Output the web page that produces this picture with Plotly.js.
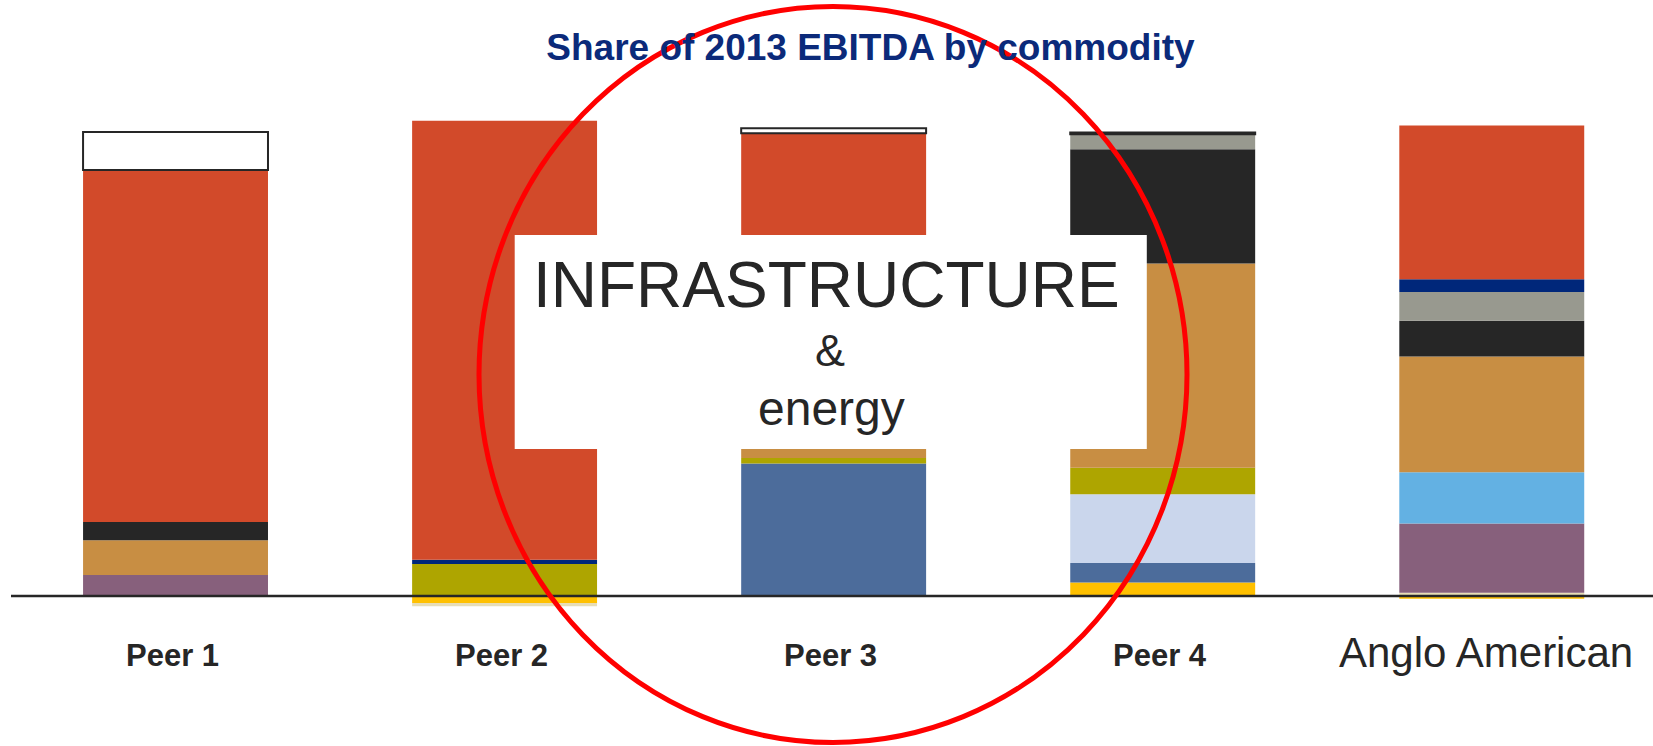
<!DOCTYPE html>
<html>
<head>
<meta charset="utf-8">
<script src="https://cdn.plot.ly/plotly-3.0.1.min.js"></script>
<style>html,body{margin:0;padding:0;background:#fff;}#chart{width:1653px;height:746px;}</style>
</head>
<body>
<div id="chart"></div>
<script>
// ---- data (share of 2013 EBITDA, %) ----
const categories = ['Peer 1', 'Peer 2', 'Peer 3', 'Peer 4', 'Anglo American'];
const tickLabels = ['<b>Peer 1</b>', '<b>Peer 2</b>', '<b>Peer 3</b>', '<b>Peer 4</b>', 'Anglo American'];

// series listed from bottom of stack to top
const zinc        = [null, -1.5, null, 2.9, -0.6];
const niobium     = [null, -0.7, null, null, 0.7];
const petroleum   = [null, null, 28.5, 4.2, null];
const agriculture = [null, null, null, 14.8, null];
const diamondsNi  = [4.5, null, null, null, 14.9];
const aluminium   = [null, 6.9, 1.2, 5.7, null];
const platinum    = [null, null, null, null, 11.0];
const copper      = [7.5, null, 17.0, 43.9, 24.9];
const thermalCoal = [3.9, null, 6.0, 24.6, 7.7];
const metCoal     = [null, null, null, 3.2, 6.2];
const manganese   = [null, 0.9, null, null, 2.7];
const ironOre     = [75.7, 94.4, 46.8, null, 33.1];
const other       = [8.2, null, 1.1, 0.4, null];

const seriesNames  = ['Zinc', 'Niobium & phosphates', 'Petroleum', 'Agriculture', 'Diamonds & nickel', 'Aluminium', 'Platinum', 'Copper', 'Thermal coal', 'Metallurgical coal', 'Manganese', 'Iron ore', 'Other'];
const seriesValues = [zinc, niobium, petroleum, agriculture, diamondsNi, aluminium, platinum, copper, thermalCoal, metCoal, manganese, ironOre, other];
const seriesColors = ['#FFC000', '#E7DDB6', '#4C6C9B', '#CAD6EC', '#87607C', '#AEA500', '#63B1E3', '#C88E43', '#262626', '#98998F', '#00277A', '#D24A2A', '#FFFFFF'];

const overlayText = ['INFRASTRUCTURE', '&', 'energy'];
const titleText = 'Share of 2013 EBITDA by commodity';

// ---- traces ----
const traces = seriesNames.map((name, i) => ({
  type: 'bar',
  name: name,
  x: categories,
  y: seriesValues[i],
  marker: {
    color: seriesColors[i],
    line: name === 'Other' ? {color: '#262626', width: 2} : {width: 0}
  },
  hoverinfo: 'skip'
}));

const dark = '#262626';
const labelAnnotations = categories.map((c, i) => ({
  xref: 'x', yref: 'paper', x: c,
  y: i === 4 ? -0.0698 : -0.0756,
  xshift: i === 4 ? -6 : -3,
  xanchor: 'center', yanchor: 'middle',
  text: tickLabels[i], showarrow: false,
  font: {family: 'Liberation Sans, Arial, sans-serif', size: i === 4 ? 42 : 31, color: dark}
}));

const overlayAnnotations = [
  {x: 0.4965, y: 0.6409, size: 64},
  {x: 0.4988, y: 0.5140, size: 45},
  {x: 0.4998, y: 0.4012, size: 48}
].map((p, i) => ({
  xref: 'paper', yref: 'paper', x: p.x, y: p.y,
  xanchor: 'center', yanchor: 'middle', showarrow: false,
  text: overlayText[i],
  font: {family: 'Liberation Sans, Arial, sans-serif', size: p.size, color: dark}
}));

const layout = {
  width: 1653, height: 746,
  margin: {l: 11, r: 0, t: 100, b: 130},
  paper_bgcolor: '#ffffff', plot_bgcolor: '#ffffff',
  barmode: 'relative',
  bargap: 0.438,
  showlegend: false,
  title: {
    text: '<b>' + titleText + '</b>',
    font: {family: 'Liberation Sans, Arial, sans-serif', size: 37, color: '#0B2A7A'},
    xref: 'container', yref: 'container',
    x: 0.5266, xanchor: 'center', y: 0.937, yanchor: 'middle'
  },
  xaxis: {type: 'category', range: [-0.5, 4.49], visible: false, fixedrange: true},
  yaxis: {range: [-4.30, 106.67], visible: false, fixedrange: true},
  shapes: [
    {type: 'line', layer: 'above', xref: 'paper', yref: 'y', x0: 0, x1: 1, y0: 0, y1: 0,
     line: {color: dark, width: 2.5}},
    {type: 'rect', layer: 'above', xref: 'paper', yref: 'paper',
     x0: 0.30676, x1: 0.69172, y0: 0.32364, y1: 0.73837,
     fillcolor: '#ffffff', line: {width: 0}},
    {type: 'circle', layer: 'above', xref: 'paper', yref: 'paper',
     x0: 0.28502, x1: 0.71620, y0: -0.24516, y1: 1.18120,
     line: {color: '#FF0000', width: 5}}
  ],
  annotations: labelAnnotations.concat(overlayAnnotations)
};

Plotly.newPlot('chart', traces, layout, {displayModeBar: false, staticPlot: true});
</script>
</body>
</html>
